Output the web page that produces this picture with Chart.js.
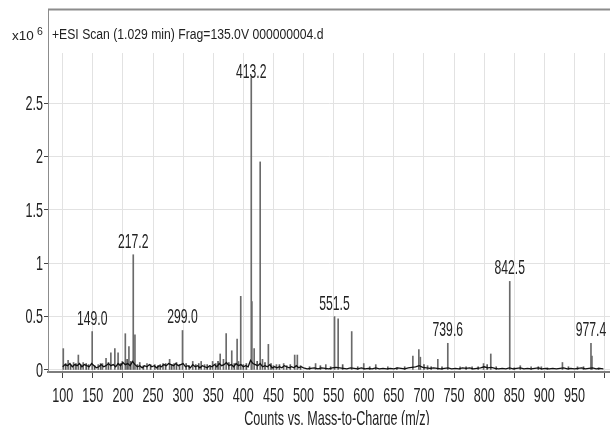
<!DOCTYPE html>
<html><head><meta charset="utf-8">
<script src="https://cdn.jsdelivr.net/npm/chart.js@4"></script>
<style>html,body{margin:0;padding:0;background:#fff;overflow:hidden}#wrap{width:610px;height:425px;position:relative}canvas{display:block}</style>
</head><body><div id="wrap"><canvas id="c" width="610" height="425"></canvas></div>
<script>
// ---- texts ----
const headerText = '+ESI Scan (1.029 min) Frag=135.0V 000000004.d';
const yScaleBase = 'x10';
const yScaleExp = '6';
const xAxisTitle = 'Counts vs. Mass-to-Charge (m/z)';

// ---- ticks ----
const xTickValues = [100,150,200,250,300,350,400,450,500,550,600,650,700,750,800,850,900,950,1000];
const xTickLabels = ['100','150','200','250','300','350','400','450','500','550','600','650','700','750','800','850','900','950',''];
const yTickValues = [0,0.5,1,1.5,2,2.5];
const yTickLabels = ['0','0.5','1','1.5','2','2.5'];

// ---- main spectrum sticks (m/z, counts x10^6) ----
const peakMz = [101,109,118,126,134,149.0,159,166,172,180,186.6,192,199,204,210,217.2,220,228,240,253,266.6,277.6,285,299.0,316,330,335.6,349,361.6,367,371.5,380.8,389.7,392,395.7,413.2,414.2,418,428,431.8,441.6,455,467,485.3,489.7,520,537,551.5,557.5,580,600,620,640,681.6,691.5,694,706,723,739.6,760,780,799,811,842.5,860,878,895,930,955,977.4,979];
const peakIntensity = [0.20,0.09,0.07,0.14,0.07,0.36,0.05,0.06,0.11,0.16,0.20,0.16,0.08,0.34,0.22,1.08,0.33,0.07,0.06,0.05,0.06,0.10,0.06,0.37,0.08,0.08,0.05,0.08,0.15,0.10,0.34,0.18,0.29,0.08,0.69,2.74,0.64,0.20,1.95,0.10,0.24,0.05,0.06,0.14,0.14,0.06,0.05,0.50,0.48,0.36,0.06,0.05,0.03,0.13,0.19,0.12,0.04,0.10,0.25,0.03,0.03,0.06,0.15,0.83,0.04,0.03,0.03,0.07,0.03,0.25,0.13];

// ---- minor sticks ----
const minorMz = [105,113,122,130,139,143,153,163,176,196,207,213,224,234,246,258,262,271,281,289,294,305,310,321,326,340,345,354,358,376,385,400,405,423,436,446,450,460,472,478,495,510,528,545,565,590,610,655,668,700,712,730,770,790,805,820,850,890,905,940,965,990];
const minorIntensity = [0.06,0.05,0.06,0.05,0.06,0.05,0.04,0.06,0.07,0.06,0.10,0.08,0.05,0.04,0.05,0.04,0.05,0.06,0.05,0.07,0.05,0.06,0.04,0.05,0.06,0.05,0.04,0.06,0.08,0.07,0.06,0.05,0.06,0.08,0.07,0.06,0.04,0.05,0.04,0.05,0.04,0.03,0.04,0.03,0.05,0.03,0.03,0.02,0.03,0.05,0.03,0.03,0.03,0.03,0.05,0.03,0.02,0.03,0.02,0.03,0.03,0.02];

// ---- baseline noise profile ----
const noiseMz = [100,104,108,112,116,120,124,128,132,136,140,144,148,152,156,160,164,168,172,176,180,184,188,192,196,200,204,208,212,216,220,224,228,232,236,240,244,248,252,256,260,264,268,272,276,280,284,288,292,296,300,304,308,312,316,320,324,328,332,336,340,344,348,352,356,360,364,368,372,376,380,384,388,392,396,400,404,408,412,416,420,424,428,432,436,440,444,448,452,456,460,464,468,472,476,480,484,488,492,496,
500,506,512,518,524,530,536,542,548,554,560,566,572,578,584,590,596,602,608,614,620,626,632,638,644,650,656,662,668,674,680,686,692,698,704,710,716,722,728,734,740,746,752,758,764,770,776,782,788,794,800,806,812,818,824,830,836,842,848,854,860,866,872,878,884,890,896,902,908,914,920,926,932,938,944,950,956,962,968,974,980,986,992,998];
const noiseIntensity = [0.03,0.05,0.04,0.06,0.03,0.05,0.04,0.06,0.03,0.05,0.04,0.03,0.06,0.04,0.02,0.03,0.05,0.03,0.04,0.06,0.04,0.05,0.03,0.06,0.04,0.07,0.05,0.06,0.04,0.08,0.05,0.03,0.04,0.02,0.04,0.03,0.05,0.03,0.04,0.02,0.04,0.03,0.05,0.04,0.06,0.05,0.04,0.06,0.04,0.05,0.06,0.03,0.04,0.02,0.05,0.03,0.04,0.02,0.04,0.03,0.02,0.04,0.03,0.05,0.03,0.06,0.04,0.05,0.07,0.04,0.05,0.03,0.06,0.04,0.05,0.03,0.04,0.03,0.09,0.06,0.05,0.04,0.06,0.03,0.04,0.03,0.05,0.02,0.03,0.02,0.03,0.02,0.04,0.03,0.02,0.03,0.02,0.04,0.02,0.03,
0.02,0.01,0.015,0.02,0.01,0.02,0.015,0.01,0.02,0.025,0.02,0.015,0.01,0.02,0.015,0.01,0.02,0.01,0.015,0.01,0.02,0.01,0.015,0.01,0.015,0.01,0.02,0.015,0.01,0.02,0.025,0.03,0.04,0.025,0.02,0.015,0.02,0.015,0.01,0.015,0.02,0.01,0.015,0.01,0.02,0.015,0.02,0.01,0.015,0.02,0.03,0.02,0.025,0.015,0.01,0.015,0.01,0.02,0.01,0.015,0.02,0.01,0.015,0.01,0.015,0.02,0.01,0.015,0.01,0.015,0.01,0.015,0.02,0.01,0.015,0.01,0.015,0.02,0.01,0.015,0.02,0.01,0.015,0.01];

// ---- annotated peaks ----
const labelledMz = [149.0,217.2,299.0,413.2,551.5,739.6,842.5,977.4];
const labelledText = ['149.0','217.2','299.0','413.2','551.5','739.6','842.5','977.4'];

const FONT = '"Liberation Sans", Arial, sans-serif';
function sText(ctx, str, x, y, size, sx, align, baseline, color) {
  ctx.save();
  ctx.font = size + 'px ' + FONT;
  ctx.fillStyle = color || '#222';
  ctx.textAlign = align;
  ctx.textBaseline = baseline;
  ctx.translate(x, y);
  ctx.scale(sx, 1);
  ctx.fillText(str, 0, 0);
  ctx.restore();
}

const HEADER_BAND = 44; // px below plot top without grid

const decorPlugin = {
  id: 'decor',
  beforeDatasetsDraw(chart) {
    const {ctx, chartArea: a} = chart;
    ctx.save();
    ctx.fillStyle = '#fff';
    ctx.fillRect(a.left + 1, a.top, a.right - a.left, HEADER_BAND);
    ctx.strokeStyle = '#8c8c8c';
    ctx.lineWidth = 2;
    ctx.beginPath();
    ctx.moveTo(a.left, a.top + 0.5);
    ctx.lineTo(a.right, a.top + 0.5);
    ctx.stroke();
    ctx.restore();
  },
  afterDraw(chart) {
    const {ctx, chartArea: a, scales} = chart;
    const xs = scales.x, ys = scales.y;
    sText(ctx, yScaleBase, 12, 40, 13.5, 1.0, 'left', 'alphabetic');
    sText(ctx, yScaleExp, 37, 35, 10.5, 1.0, 'left', 'alphabetic');
    sText(ctx, headerText, a.left + 4, 39, 14, 0.87, 'left', 'alphabetic');
    ys.ticks.forEach(t => {
      const lab = yTickLabels[yTickValues.indexOf(t.value)];
      if (lab) sText(ctx, lab, a.left - 5, ys.getPixelForValue(t.value) + 1, 21, 0.6, 'right', 'middle');
    });
    xs.ticks.forEach(t => {
      const lab = xTickLabels[xTickValues.indexOf(t.value)];
      if (lab) sText(ctx, lab, xs.getPixelForValue(t.value), 402, 21, 0.6, 'center', 'alphabetic');
    });
    sText(ctx, xAxisTitle, (a.left + a.right) / 2 + 8, 425, 21, 0.6, 'center', 'alphabetic');
    labelledMz.forEach((mz, i) => {
      const idx = peakMz.indexOf(mz);
      const top = ys.getPixelForValue(peakIntensity[idx]);
      const base = Math.max(top - 7, a.top + HEADER_BAND + 25);
      sText(ctx, labelledText[i], xs.getPixelForValue(mz), base, 21, 0.58, 'center', 'alphabetic');
    });
  }
};

new Chart(document.getElementById('c'), {
  type: 'bar',
  data: {
    datasets: [
      {
        type: 'line',
        data: noiseMz.map((x, i) => ({x: x, y: noiseIntensity[i]})),
        borderColor: '#111',
        borderWidth: 1.3,
        pointRadius: 0,
        tension: 0,
        order: 1
      },
      {
        type: 'bar',
        data: peakMz.map((x, i) => ({x: x, y: peakIntensity[i]})),
        backgroundColor: '#6a6a6a',
        barThickness: 1,
        grouped: false,
        order: 2
      },
      {
        type: 'bar',
        data: minorMz.map((x, i) => ({x: x, y: minorIntensity[i]})),
        backgroundColor: '#555',
        barThickness: 1,
        grouped: false,
        order: 3
      }
    ]
  },
  options: {
    responsive: false,
    animation: false,
    devicePixelRatio: 1,
    layout: {padding: {top: 9, right: 0, left: 0, bottom: 0}},
    plugins: {legend: {display: false}, tooltip: {enabled: false}, title: {display: false}},
    scales: {
      x: {
        type: 'linear',
        offset: false,
        min: 75.6,
        max: 1009,
        afterBuildTicks: s => { s.ticks = xTickValues.map(v => ({value: v})); },
        afterFit: s => { s.height = 53; },
        ticks: {display: false},
        grid: {color: '#e2e2e2', lineWidth: 1, offset: false, drawTicks: true, tickLength: 6, tickColor: '#444', tickWidth: 1},
        border: {color: '#7d7d7d', width: 2}
      },
      y: {
        type: 'linear',
        min: -0.019,
        max: 3.383,
        afterBuildTicks: s => { s.ticks = yTickValues.map(v => ({value: v})); },
        afterFit: s => { s.width = 48; },
        ticks: {display: false},
        grid: {color: '#e2e2e2', lineWidth: 1, drawTicks: true, tickLength: 4, tickColor: '#444', tickWidth: 1},
        border: {color: '#8c8c8c', width: 1}
      }
    }
  },
  plugins: [decorPlugin]
});
</script>
</body></html>
